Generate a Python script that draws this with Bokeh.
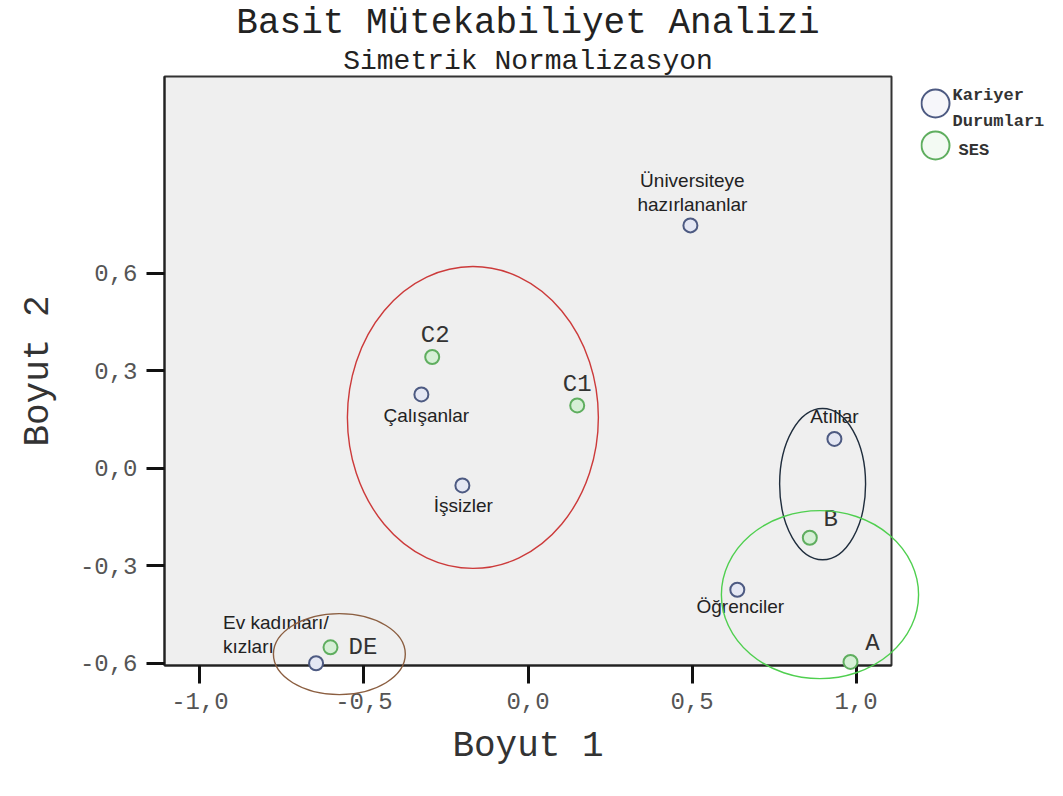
from bokeh.plotting import figure
from bokeh.layouts import row
from bokeh.models import Range1d, FixedTicker, Title
from bokeh.core.properties import value
from bokeh.embed import file_html
from bokeh.resources import INLINE

# ---------------- data ----------------
career_labels = ["Üniversiteye\nhazırlananlar", "Çalışanlar", "İşsizler", "Atıllar", "Öğrenciler", "Ev kadınları/\nkızları"]
career_dim1 = [0.495, -0.325, -0.200, 0.934, 0.638, -0.646]
career_dim2 = [0.747, 0.227, -0.053, 0.090, -0.374, -0.600]

ses_labels = ["C2", "C1", "B", "A", "DE"]
ses_dim1 = [-0.292, 0.150, 0.859, 0.983, -0.602]
ses_dim2 = [0.342, 0.193, -0.214, -0.596, -0.551]

x_tick_values = [-1.0, -0.5, 0.0, 0.5, 1.0]
x_tick_labels = ["-1,0", "-0,5", "0,0", "0,5", "1,0"]
y_tick_values = [-0.6, -0.3, 0.0, 0.3, 0.6]
y_tick_labels = ["-0,6", "-0,3", "0,0", "0,3", "0,6"]

# hand-drawn grouping ellipses (centre, width, height in dimension units)
group_cx = [-0.168, 0.898, 0.890, -0.575]
group_cy = [0.156, -0.049, -0.389, -0.572]
group_w = [0.765, 0.262, 0.601, 0.402]
group_h = [0.929, 0.465, 0.517, 0.249]

legend_labels = ["Kariyer\nDurumları", "SES"]
title_text = "Basit Mütekabiliyet Analizi"
subtitle_text = "Simetrik Normalizasyon"

# ---------------- styles ----------------
NAVY_LINE, NAVY_FILL = "#4d5a82", "#e4e7f3"
GREEN_LINE, GREEN_FILL = "#5fae5f", "#d6efd6"
group_colors = ["#cc3a3a", "#1f2d3d", "#4fcf4f", "#8b5e40"]
MONO = "Liberation Mono"
SANS = "Liberation Sans"

# label offsets in pixels (dx, dy: +dy = down)
career_dx = [2, 5, 1, 0, 3, -93]
career_dy = [-10, 21, 20, -22, 17, -6]
career_align = ["center", "center", "center", "center", "center", "left"]
career_base = ["bottom", "middle", "middle", "middle", "middle", "bottom"]
ses_dx = [3, 0, 21, 22, 18]
ses_dy = [-22, -21, -18, -18, 0]
ses_align = ["center", "center", "center", "center", "left"]

MAIN_W, LEG_W, H = 920, 127, 780
B_TOP, B_BOTTOM = 76, 115
FRAME_H = H - B_TOP - B_BOTTOM

p = figure(width=MAIN_W, height=H, output_backend="svg", toolbar_location=None, title=None,
           x_range=Range1d(-1.108, 1.108), y_range=Range1d(-0.607, 1.205),
           min_border_left=164, min_border_right=29, min_border_top=B_TOP, min_border_bottom=B_BOTTOM)

p.background_fill_color = "#efefef"
p.border_fill_color = "white"
p.outline_line_color = "#333333"
p.outline_line_width = 2
p.grid.visible = False

for ax, vals, labs in ((p.xaxis, x_tick_values, x_tick_labels), (p.yaxis, y_tick_values, y_tick_labels)):
    ax.ticker = FixedTicker(ticks=vals)
    ax.major_label_overrides = dict(zip(vals, labs))
    ax.major_tick_out = 18
    ax.major_tick_in = 0
    ax.major_tick_line_width = 3
    ax.major_tick_line_color = "#111111"
    ax.minor_tick_line_color = None
    ax.axis_line_color = "#222222"
    ax.axis_line_width = 2
    ax.major_label_text_font = MONO
    ax.major_label_text_font_size = "24px"
    ax.major_label_text_color = "#555555"
    ax.major_label_standoff = 9
    ax.axis_label_text_font = MONO
    ax.axis_label_text_font_size = "36px"
    ax.axis_label_text_font_style = "normal"
    ax.axis_label_text_color = "#333333"

p.xaxis.axis_label = "Boyut 1"
p.yaxis.axis_label = "Boyut 2"
p.xaxis.axis_label_standoff = 14
p.yaxis.axis_label_standoff = 18

# titles (sub-title first: it sits closest to the frame)
p.add_layout(Title(text=subtitle_text, align="center", text_font=MONO, text_font_size="28px",
                   text_font_style="normal", text_color="#222222", standoff=0), "above")
p.add_layout(Title(text=title_text, align="center", text_font=MONO, text_font_size="36px",
                   text_font_style="normal", text_color="#222222", standoff=0), "above")

# grouping ellipses (not clipped: drawn at overlay level)
p.ellipse(x=group_cx, y=group_cy, width=group_w, height=group_h,
          fill_color=None, line_color=group_colors, line_width=1.4, level="overlay")

# labels
for i, t in enumerate(career_labels):
    p.text(x=[career_dim1[i]], y=[career_dim2[i]], text=[t], x_offset=career_dx[i], y_offset=career_dy[i],
           text_align=career_align[i], text_baseline=career_base[i],
           text_font=value(SANS), text_font_size="19px", text_color="#222222", text_line_height=1.15)
for i, t in enumerate(ses_labels):
    p.text(x=[ses_dim1[i]], y=[ses_dim2[i]], text=[t], x_offset=ses_dx[i], y_offset=ses_dy[i],
           text_align=ses_align[i], text_baseline="middle",
           text_font=value(MONO), text_font_size="24px", text_color="#333333")

# points
p.scatter(career_dim1, career_dim2, marker="circle", size=14, line_width=2,
          line_color=NAVY_LINE, fill_color=NAVY_FILL, level="overlay")
p.scatter(ses_dim1, ses_dim2, marker="circle", size=14, line_width=2,
          line_color=GREEN_LINE, fill_color=GREEN_FILL, level="overlay")

# ---------------- legend panel (pixel coordinates from the frame top, y downwards) ----------------
lg = figure(width=LEG_W, height=H, output_backend="svg", toolbar_location=None,
            x_range=Range1d(0, LEG_W), y_range=Range1d(FRAME_H, 0),
            x_axis_type=None, y_axis_type=None,
            min_border_left=0, min_border_right=0, min_border_top=B_TOP, min_border_bottom=B_BOTTOM)
lg.outline_line_color = None
lg.grid.visible = False
lg.background_fill_color = "white"
lg.border_fill_color = "white"
lg.scatter([15, 15], [27, 69], marker="circle", size=28, line_width=2,
           line_color=[NAVY_LINE, GREEN_LINE], fill_color=["#f6f6fa", "#f3faf3"])
lg.text(x=[32, 38], y=[32, 74], text=legend_labels, text_align="left", text_baseline="middle",
        text_font=value(MONO), text_font_size="17px", text_font_style="bold",
        text_color="#333333", text_line_height=1.4)

layout = row(p, lg, spacing=0)
open("out.html", "w").write(file_html(layout, INLINE))
